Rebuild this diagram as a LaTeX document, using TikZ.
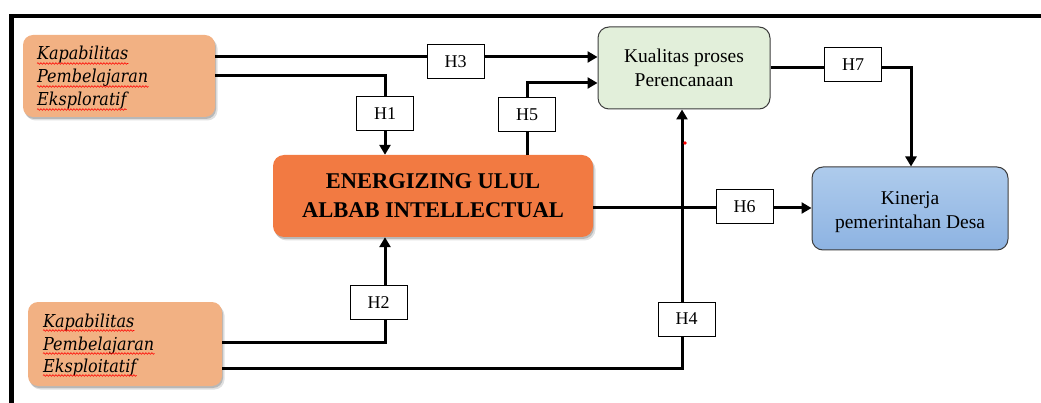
\documentclass[tikz,border=0pt]{standalone}
\usepackage{fontspec}
\setmainfont{Liberation Serif}
\newfontfamily\slabfont{DejaVu Serif Condensed}
\usetikzlibrary{arrows.meta,shadows,decorations.pathmorphing}

\definecolor{peach}{HTML}{F2B183}
\definecolor{hotorange}{HTML}{F27A42}
\definecolor{palegreen}{HTML}{E2EFDA}
\definecolor{skytop}{HTML}{AECBEC}
\definecolor{skybottom}{HTML}{8DB3E2}
\definecolor{rim}{HTML}{3C3C3C}

\tikzset{
  softshadow/.style={
    drop shadow={shadow xshift=1pt,shadow yshift=-2pt,opacity=.18,fill=black},
    drop shadow={shadow xshift=2.5pt,shadow yshift=-3.5pt,opacity=.12,fill=black}},
  srcbox/.style={fill=peach, rounded corners=10pt, softshadow,
    minimum height=82pt, inner sep=0pt},
  wordline/.style={anchor=base west, inner sep=0pt,
    font=\slabfont\itshape\fontsize{17.8}{20}\selectfont},
  spell/.style={red, line width=0.6pt, decorate,
    decoration={snake, amplitude=0.8pt, segment length=3pt}},
  midbox/.style={fill=hotorange, rounded corners=11pt, softshadow,
    minimum width=320pt, minimum height=82pt, align=center,
    font=\bfseries\fontsize{22.5}{29}\selectfont},
  outbox/.style={draw=rim, line width=1pt, rounded corners=11pt},
  boxtext/.style={align=center, inner sep=0pt, font=\fontsize{19.5}{24}\selectfont},
  hbox/.style={draw, line width=1pt, fill=white, minimum width=57pt,
    minimum height=34pt, inner sep=0pt, font=\fontsize{18}{20}\selectfont},
  link/.style={line width=3pt},
  arrowlink/.style={link, -{Triangle[length=10pt,width=11pt]}},
}

\begin{document}
\begin{tikzpicture}[x=1pt,y=-1pt]
\useasboundingbox (0,0) rectangle (1041,403);

% outer frame, cut off at the right and bottom
\draw[line width=4.5pt] (11.5,403) -- (11.5,16) -- (1041,16);

% main blocks
\node[srcbox, minimum width=192pt] (explor) at (119,76) {};
\node[srcbox, minimum width=194pt, minimum height=84pt] (exploit) at (125,344) {};
\node[midbox] (energy) at (433,196) {ENERGIZING ULUL\\ ALBAB INTELLECTUAL};
\node[outbox, fill=palegreen, minimum width=172pt, minimum height=82pt] (plan) at (684,68) {};
\node[boxtext] (plantext) at (plan.center) {Kualitas proses\\ Perencanaan};
\node[outbox, top color=skytop, bottom color=skybottom, minimum width=196pt, minimum height=83pt] (perf) at (910,208.5) {};
\node[boxtext] (perftext) at ([yshift=-4pt]perf.center) {Kinerja\\ pemerintahan Desa};

% italic word lines inside the two peach blocks, each with a wavy underline
\node[wordline] (e1) at (37,60) {Kapabilitas};
\node[wordline] (e2) at (37,83) {Pembelajaran};
\node[wordline] (e3) at (37,106) {Eksploratif};
\node[wordline] (x1) at (43,327) {Kapabilitas};
\node[wordline] (x2) at (43,350) {Pembelajaran};
\node[wordline] (x3) at (43,372) {Eksploitatif};
\foreach \w in {e1,e2,e3,x1,x2,x3}
  \draw[spell] ([yshift=-3.5pt]\w.base west) -- ([yshift=-3.5pt]\w.base east);

% connectors
\draw[arrowlink] (explor.east |- 0,57) -- (plan.west |- 0,57);
\draw[arrowlink] (explor.east |- 0,76) -| (energy.north -| 385,0);
\draw[arrowlink] (energy.north -| 527,0) |- (plan.west |- 0,83);
\draw[arrowlink] (exploit.east |- 0,342) -| (energy.south -| 385,0);
\draw[arrowlink] (exploit.east |- 0,368) -| (plan.south -| 682,0);
\draw[arrowlink] (energy.east |- 0,208) -- (perf.west |- 0,208);
\draw[arrowlink] (plan.east |- 0,68) -| (perf.north -| 911,0);

% hypothesis labels sitting on the connectors
\node[hbox] (h3) at (455.5,61.5) {H3};
\node[hbox] (h1) at (385,114) {H1};
\node[hbox] (h5) at (527,114.5) {H5};
\node[hbox] (h2) at (378.5,302.5) {H2};
\node[hbox] (h4) at (686.5,319) {H4};
\node[hbox] (h6) at (744.5,206.5) {H6};
\node[hbox] (h7) at (853,64.5) {H7};

% small red mark beside the H4 connector
\fill[red] (685,143) circle (1.8pt);
\end{tikzpicture}
\end{document}
